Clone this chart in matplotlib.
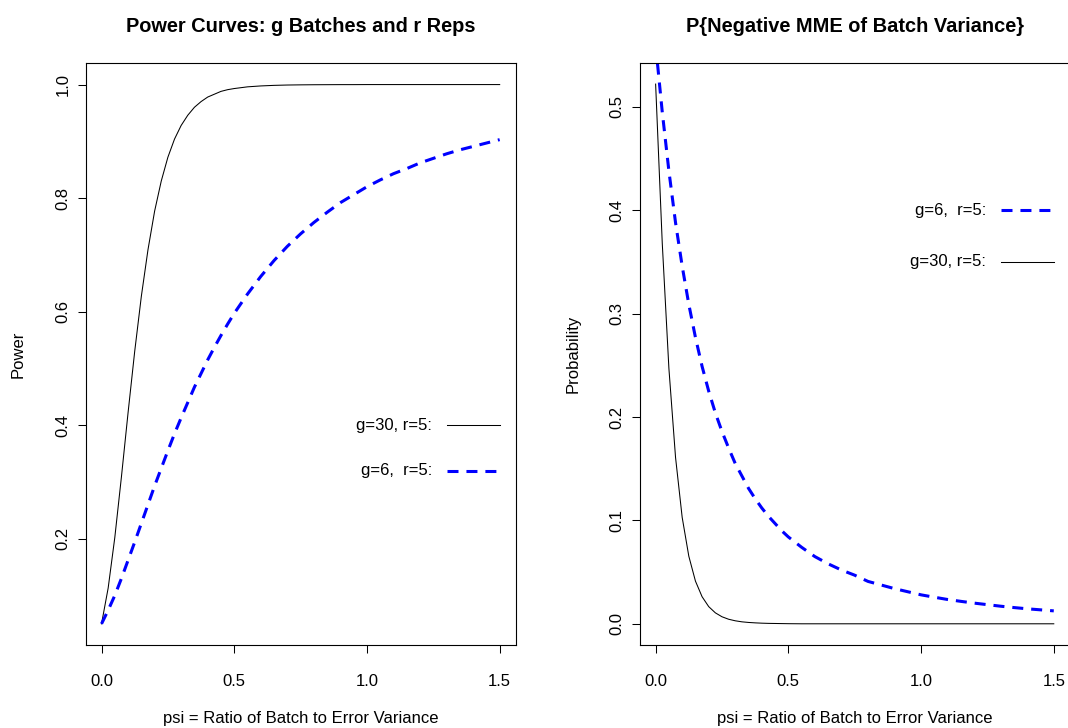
import matplotlib
matplotlib.use("Agg")
import matplotlib.pyplot as plt

plt.rcParams["font.family"] = ["Liberation Sans", "DejaVu Sans"]

# psi grid (ratio of batch to error variance): finer steps below 0.5
psi = [0.000, 0.025, 0.050, 0.075, 0.100, 0.125, 0.150, 0.175, 0.200, 0.225,
       0.250, 0.275, 0.300, 0.325, 0.350, 0.375, 0.400, 0.425, 0.450, 0.475,
       0.50, 0.55, 0.60, 0.65, 0.70, 0.75, 0.80, 0.85, 0.90, 0.95,
       1.00, 1.05, 1.10, 1.15, 1.20, 1.25, 1.30, 1.35, 1.40, 1.45, 1.50]

# power, g=30 batches, r=5 reps
power_g30 = [0.050, 0.113, 0.202, 0.309, 0.422, 0.530, 0.627, 0.709, 0.777, 0.830,
             0.872, 0.904, 0.928, 0.946, 0.960, 0.970, 0.978, 0.983, 0.988, 0.991,
             0.993, 0.996, 0.9976, 0.9986, 0.9992, 0.9995, 0.9997, 0.9998, 0.9999, 0.9999,
             1.0, 1.0, 1.0, 1.0, 1.0, 1.0, 1.0, 1.0, 1.0, 1.0, 1.0]

# power, g=6 batches, r=5 reps
power_g6 = [0.050, 0.074, 0.100, 0.130, 0.162, 0.194, 0.227, 0.260, 0.293, 0.324,
            0.355, 0.385, 0.413, 0.440, 0.467, 0.491, 0.515, 0.537, 0.558, 0.578,
            0.597, 0.631, 0.662, 0.690, 0.715, 0.737, 0.757, 0.775, 0.792, 0.806,
            0.820, 0.832, 0.843, 0.852, 0.862, 0.870, 0.878, 0.885, 0.891, 0.897, 0.903]

# P{negative MME of batch variance}, g=30, r=5
pneg_g30 = [0.522, 0.368, 0.247, 0.161, 0.103, 0.0654, 0.0413, 0.0262, 0.0166, 0.0106,
            0.0068, 0.0044, 0.0029, 0.0019, 0.0013, 0.0009, 0.0006, 0.0004, 0.0003, 0.0002,
            0.0001, 0.0, 0.0, 0.0, 0.0, 0.0, 0.0, 0.0, 0.0, 0.0,
            0.0, 0.0, 0.0, 0.0, 0.0, 0.0, 0.0, 0.0, 0.0, 0.0, 0.0]

# P{negative MME of batch variance}, g=6, r=5
pneg_g6 = [0.560, 0.495, 0.438, 0.388, 0.346, 0.309, 0.277, 0.249, 0.225, 0.204,
           0.186, 0.170, 0.155, 0.143, 0.131, 0.121, 0.112, 0.104, 0.097, 0.090,
           0.084, 0.074, 0.065, 0.058, 0.052, 0.047, 0.041, 0.0375, 0.034, 0.031,
           0.028, 0.0257, 0.0235, 0.0217, 0.020, 0.0185, 0.017, 0.0157, 0.0145, 0.0135, 0.0125]

x_ticks = [0.0, 0.5, 1.0, 1.5]
x_ticklabels = ["0.0", "0.5", "1.0", "1.5"]
power_ticks = [0.2, 0.4, 0.6, 0.8, 1.0]
power_ticklabels = ["0.2", "0.4", "0.6", "0.8", "1.0"]
prob_ticks = [0.0, 0.1, 0.2, 0.3, 0.4, 0.5]
prob_ticklabels = ["0.0", "0.1", "0.2", "0.3", "0.4", "0.5"]

BLUE = "#0000ff"
DASH = (3.6, 2.6)

W, H = 1068, 728
fig = plt.figure(figsize=(W / 100, H / 100), dpi=100)

# axes boxes in pixels: left, right, top, bottom
box_l = (85.6, 515.6, 63.0, 645.4)
box_r = (639.7, 1069.7, 63.0, 645.4)


def make_axes(b):
    l, r, t, btm = b
    return fig.add_axes([l / W, (H - btm) / H, (r - l) / W, (btm - t) / H])


def style_axes(ax, yticks, yticklabels, title, ylabel):
    ax.set_xlim(-0.06, 1.56)
    ax.set_xticks(x_ticks)
    ax.set_xticklabels(x_ticklabels)
    ax.set_yticks(yticks)
    ax.set_yticklabels(yticklabels, rotation=90, va="center")
    for s in ax.spines.values():
        s.set_linewidth(0.8)
        s.set_color("black")
    ax.tick_params(direction="out", length=5.8, width=0.75, labelsize=12)
    ax.tick_params(axis="x", pad=14.5)
    ax.tick_params(axis="y", pad=5)
    ax.set_title(title, fontsize=14.4, fontweight="bold", y=1.054, pad=0)
    ax.set_xlabel("psi = Ratio of Batch to Error Variance", fontsize=12, va="baseline")
    ax.xaxis.set_label_coords(0.5, -0.1333)
    ax.set_ylabel(ylabel, fontsize=12, va="center")


# ---- left: power curves ----
ax1 = make_axes(box_l)
ax1.plot(psi, power_g30, color="black", lw=0.75)
ax1.plot(psi, power_g6, color=BLUE, lw=2.2, dashes=DASH)
ax1.set_ylim(0.012, 1.038)
style_axes(ax1, power_ticks, power_ticklabels,
           "Power Curves: g Batches and r Reps", "Power")
ax1.yaxis.set_label_coords(-0.157, 0.5)

ax1.text(1.245, 0.4, "g=30, r=5:", ha="right", va="center", fontsize=12)
ax1.plot([1.3, 1.5], [0.4, 0.4], color="black", lw=0.75)
ax1.text(1.245, 0.32, "g=6,  r=5:", ha="right", va="center", fontsize=12)
ax1.plot([1.3, 1.5], [0.32, 0.32], color=BLUE, lw=2.2, dashes=DASH)

# ---- right: P{negative MME} ----
ax2 = make_axes(box_r)
ax2.plot(psi, pneg_g30, color="black", lw=0.75)
ax2.plot(psi, pneg_g6, color=BLUE, lw=2.2, dashes=DASH)
ax2.set_ylim(-0.0209, 0.5424)
style_axes(ax2, prob_ticks, prob_ticklabels,
           "P{Negative MME of Batch Variance}", "Probability")
ax2.yaxis.set_label_coords(-0.155, 0.5)

ax2.text(1.245, 0.4, "g=6,  r=5:", ha="right", va="center", fontsize=12)
ax2.plot([1.3, 1.5], [0.4, 0.4], color=BLUE, lw=2.2, dashes=DASH)
ax2.text(1.245, 0.35, "g=30, r=5:", ha="right", va="center", fontsize=12)
ax2.plot([1.3, 1.5], [0.35, 0.35], color="black", lw=0.75)

fig.savefig("out.png", dpi=100)
